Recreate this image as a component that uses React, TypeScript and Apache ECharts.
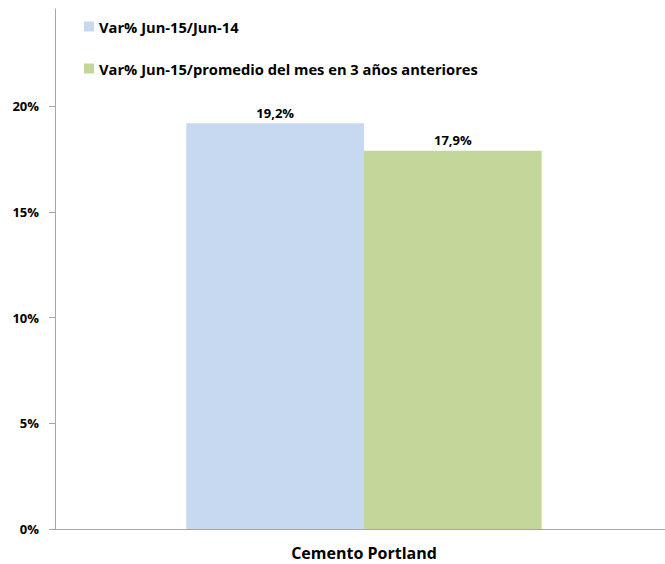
import React, { useEffect, useRef } from "react";
import * as echarts from "echarts";

const categories = ["Cemento Portland"];
const seriesNames = [
  "Var% Jun-15/Jun-14",
  "Var% Jun-15/promedio del mes en 3 años anteriores",
];
const serieA = [19.2];
const serieB = [17.9];
const yTicks = [0, 5, 10, 15, 20];

const FONT = "'Open Sans', Lato, sans-serif";

export default function App() {
  const ref = useRef<HTMLDivElement>(null);
  useEffect(() => {
    document.body.style.margin = "0";
    const chart = echarts.init(ref.current!, null, { renderer: "svg" });
    const fmt = (v: number) => v.toFixed(1).replace(".", ",") + "%";
    chart.setOption({
      animation: false,
      backgroundColor: "#ffffff",
      textStyle: { fontFamily: FONT },
      grid: { left: 55, right: 1, top: 9, bottom: 35, containLabel: false },
      legend: {
        orient: "vertical",
        left: 79,
        top: 14,
        itemGap: 27,
        itemWidth: 10,
        itemHeight: 10,
        icon: "rect",
        textStyle: { fontFamily: FONT, fontWeight: "bold", fontSize: 14.7, color: "#000" },
        data: seriesNames,
      },
      xAxis: {
        type: "category",
        data: categories,
        axisLine: { lineStyle: { color: "#a6a6a6", width: 1 } },
        axisTick: { show: false },
        axisLabel: {
          fontFamily: FONT,
          fontWeight: "bold",
          fontSize: 16,
          lineHeight: 14,
          color: "#000",
          margin: 17,
        },
      },
      yAxis: {
        type: "value",
        min: 0,
        max: 24.6,
        interval: 5,
        splitLine: { show: false },
        axisLine: { show: true, lineStyle: { color: "#a6a6a6", width: 1 } },
        axisTick: {
          show: true,
          length: 6,
          customValues: yTicks,
          lineStyle: { color: "#a6a6a6" },
        },
        axisLabel: {
          customValues: yTicks,
          formatter: (v: number) => v + "%",
          fontFamily: FONT,
          fontWeight: "bold",
          fontSize: 13,
          color: "#000",
          margin: 16,
        },
      },
      series: [
        {
          name: seriesNames[0],
          type: "bar",
          data: serieA,
          barGap: "0%",
          barCategoryGap: "42.5%",
          itemStyle: { color: "#c6d9f1" },
          label: {
            show: true,
            position: "top",
            formatter: (p: any) => fmt(p.value),
            fontFamily: FONT,
            fontWeight: "bold",
            fontSize: 13,
            color: "#000",
            distance: 4,
          },
        },
        {
          name: seriesNames[1],
          type: "bar",
          data: serieB,
          itemStyle: { color: "#c4d79b" },
          label: {
            show: true,
            position: "top",
            formatter: (p: any) => fmt(p.value),
            fontFamily: FONT,
            fontWeight: "bold",
            fontSize: 13,
            color: "#000",
            distance: 4,
          },
        },
      ],
    });
    return () => chart.dispose();
  }, []);
  return (
    <div
      ref={ref}
      style={{ position: "fixed", left: 0, top: 0, width: 674, height: 564 }}
    />
  );
}
